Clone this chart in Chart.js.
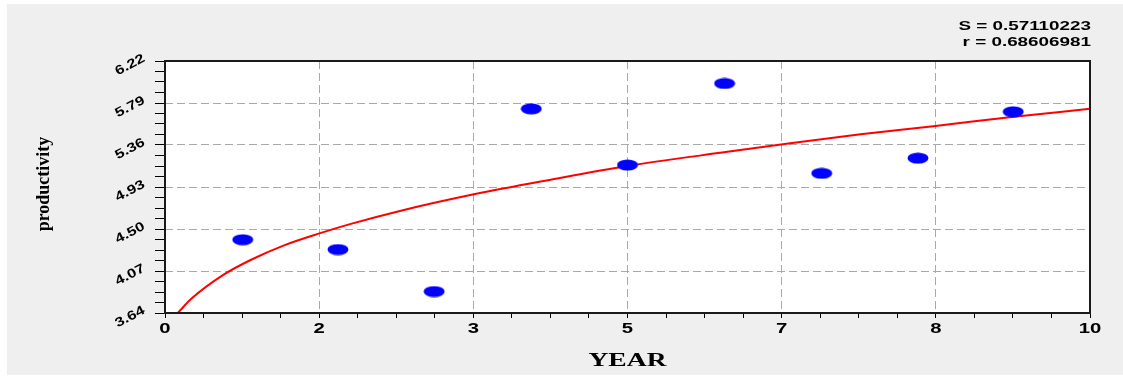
<!DOCTYPE html>
<html>
<head>
<meta charset="utf-8">
<script src="https://cdn.jsdelivr.net/npm/chart.js@4"></script>
<style>
  html, body { margin: 0; padding: 0; background: #fff; }
  canvas { display: block; }
</style>
</head>
<body>
<canvas id="fitChart" width="1123" height="376"></canvas>
<script>
// observed points
const yearX = [0.84, 1.87, 2.91, 3.96, 5.00, 6.05, 7.10, 8.14, 9.17];
const productivity = [4.39, 4.29, 3.86, 5.73, 5.155, 5.99, 5.07, 5.225, 5.70];

// fitted curve
const fitX = [0.137, 0.29, 0.63, 0.92, 1.28, 1.67, 2.0, 2.54, 3.34, 4.17, 5.0, 6.08, 6.66, 7.52, 8.33, 9.18, 10.0];
const fitY = [3.64, 3.79, 4.03, 4.18, 4.33, 4.455, 4.55, 4.685, 4.855, 5.005, 5.145, 5.29, 5.365, 5.47, 5.555, 5.65, 5.73];

// axes
const xTickValues = [0, 1.667, 3.333, 5, 6.667, 8.333, 10];
const xTickLabels = ['0', '2', '3', '5', '7', '8', '10'];
const yTickValues = [3.64, 4.07, 4.50, 4.93, 5.36, 5.79, 6.22];

const statLines = ['S = 0.57110223', 'r = 0.68606981'];
const xTitle = 'YEAR';
const yTitle = 'productivity';

const SX = 1.45; // text in the original is stretched sideways

function withMinors(majors, parts) {
  const out = [];
  for (let i = 0; i < majors.length; i++) {
    out.push({ value: majors[i], major: true });
    if (i < majors.length - 1) {
      const step = (majors[i + 1] - majors[i]) / parts;
      for (let k = 1; k < parts; k++) out.push({ value: majors[i] + step * k, major: false });
    }
  }
  return out;
}

// blue ellipse marker
const dot = document.createElement('canvas');
dot.width = 22; dot.height = 12;
(function () {
  const c = dot.getContext('2d');
  c.fillStyle = '#0000ff';
  c.beginPath();
  c.ellipse(11, 6, 10.5, 5.6, 0, 0, Math.PI * 2);
  c.fill();
})();

function drawText(ctx, text, x, y, font, align, baseline, sx, angle) {
  ctx.save();
  ctx.translate(x, y);
  if (angle) ctx.rotate(angle);
  ctx.scale(sx, 1);
  ctx.font = font;
  ctx.textAlign = align;
  ctx.textBaseline = baseline;
  ctx.fillStyle = '#000';
  ctx.fillText(text, 0, 0);
  ctx.restore();
}

const decor = {
  id: 'decor',
  beforeDraw(chart) {
    const ctx = chart.ctx, a = chart.chartArea;
    ctx.save();
    ctx.fillStyle = '#fff';
    ctx.fillRect(0, 0, chart.width, chart.height);
    ctx.fillStyle = '#efefef';
    ctx.fillRect(7, 4, chart.width - 7, chart.height - 5);
    ctx.fillStyle = '#fff';
    ctx.fillRect(a.left, a.top, a.right - a.left, a.bottom - a.top);
    ctx.restore();
  },
  afterDraw(chart) {
    const ctx = chart.ctx, a = chart.chartArea;
    const xs = chart.scales.x, ys = chart.scales.y;
    ctx.save();
    ctx.strokeStyle = '#1a1a1a';
    ctx.lineWidth = 2;
    ctx.strokeRect(a.left, a.top, a.right - a.left, a.bottom - a.top);
    ctx.restore();

    xTickValues.forEach((v, i) => {
      drawText(ctx, xTickLabels[i], xs.getPixelForValue(v), 333, 'bold 14px "Liberation Sans", Arial', 'center', 'alphabetic', SX, 0);
    });
    yTickValues.forEach(v => {
      drawText(ctx, v.toFixed(2), 130, ys.getPixelForValue(v) + 4, 'bold 13px "Liberation Sans", Arial', 'center', 'middle', 1.25, -28 * Math.PI / 180);
    });
    drawText(ctx, statLines[0], a.right + 1, 29.5, 'bold 13px "Liberation Sans", Arial', 'right', 'alphabetic', SX, 0);
    drawText(ctx, statLines[1], a.right + 1, 46, 'bold 13px "Liberation Sans", Arial', 'right', 'alphabetic', SX, 0);
    drawText(ctx, xTitle, (a.left + a.right) / 2, 366, 'bold 19px "Liberation Serif", serif', 'center', 'alphabetic', SX, 0);

    ctx.save();
    ctx.translate(44, 184);
    ctx.rotate(-Math.PI / 2);
    ctx.font = 'bold 18px "Liberation Serif", serif';
    ctx.textAlign = 'center';
    ctx.textBaseline = 'middle';
    ctx.fillStyle = '#000';
    ctx.fillText(yTitle, 0, 0);
    ctx.restore();
  }
};

const gridColor = c => (c.tick && c.tick.major) ? '#a9a9a9' : 'rgba(0,0,0,0)';

new Chart(document.getElementById('fitChart'), {
  type: 'scatter',
  data: {
    datasets: [{
      label: 'fit',
      type: 'line',
      data: fitX.map((x, i) => ({ x: x, y: fitY[i] })),
      borderColor: '#ff0000',
      borderWidth: 2,
      pointRadius: 0,
      cubicInterpolationMode: 'monotone',
      fill: false,
      order: 2
    }, {
      label: 'productivity',
      data: yearX.map((x, i) => ({ x: x, y: productivity[i] })),
      pointStyle: dot,
      pointRadius: 6,
      order: 1
    }]
  },
  options: {
    responsive: false,
    animation: false,
    layout: { padding: { top: 61, right: 33, left: 0, bottom: 0 } },
    plugins: { legend: { display: false }, tooltip: { enabled: false } },
    scales: {
      x: {
        type: 'linear', min: 0, max: 10,
        afterBuildTicks: s => { s.ticks = withMinors(xTickValues, 4); },
        afterFit: s => { s.height = 63; },
        ticks: { display: false },
        grid: { color: gridColor, tickColor: '#000', tickLength: 5, lineWidth: 1 },
        border: { display: false, dash: [8, 4] }
      },
      y: {
        type: 'linear', min: 3.64, max: 6.22,
        afterBuildTicks: s => { s.ticks = withMinors(yTickValues, 4); },
        afterFit: s => { s.width = 165; },
        ticks: { display: false },
        grid: { color: gridColor, tickColor: '#000', tickLength: 10, lineWidth: 1 },
        border: { display: false, dash: [8, 4] }
      }
    }
  },
  plugins: [decor]
});
</script>
</body>
</html>
